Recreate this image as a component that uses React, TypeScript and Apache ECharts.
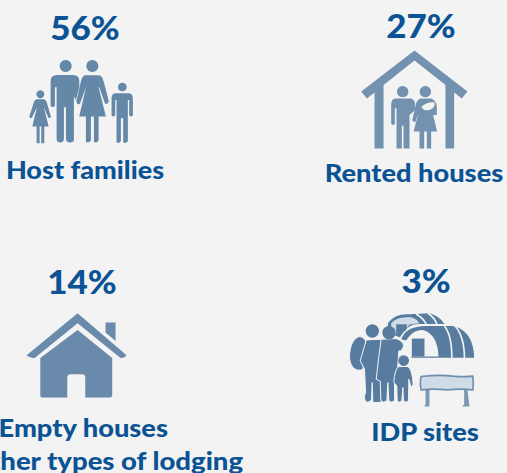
import React, { useEffect, useRef } from "react";
import * as echarts from "echarts";

const shareLabels = ["56%", "27%", "14%", "3%"];
const categoryLabels = ["Host families", "Rented houses", "Empty houses", "IDP sites"];
const extraLabel = "Other types of lodging";

const BLUE = "#0b5394";
const BG = "#f3f3f3";
const FONT = "Lato, 'Open Sans', sans-serif";

const paths: Record<string, string> = {
  man: "M152 244 Q152 225 172 225 L220 225 Q238 225 238 244 L238 262 L228 300 L222 290 L222 418 Q222 428 210 428 Q200 428 198 418 L198 322 L192 322 L192 418 Q190 428 181 428 Q171 428 170 418 L170 262 L165 262 L165 318 Q158 324 152 318 Z",
  woman: "M254 226 L298 226 Q306 228 310 240 L327 305 Q322 316 315 310 L298 262 L296 262 L318 350 L296 350 L296 422 Q290 432 282 426 L282 350 L273 350 L273 422 Q266 432 258 426 L258 350 L238 350 L258 262 L240 312 Q232 316 229 305 L244 240 Q247 230 254 226 Z",
  girl: "M110 298 L132 298 Q138 300 140 306 L153 350 Q150 358 145 353 L132 322 L146 380 L133 380 L133 430 L124 430 L124 380 L119 380 L119 430 L110 430 L110 380 L97 380 L111 322 L96 353 Q91 358 88 350 L102 306 Q104 300 110 298 Z",
  boy: "M345 280 L388 280 Q398 282 399 294 L399 346 Q394 354 388 346 L388 300 L384 300 L384 424 Q378 432 370 428 L370 355 L363 355 L363 424 Q358 432 350 428 L350 300 L346 300 L346 346 Q340 354 335 346 L335 294 Q336 282 345 280 Z",
  roof2: "M485 152 L644 275 L627 296 L604 278 L604 446 L578 446 L578 255 L485 182 L392 255 L392 446 L365 446 L365 278 L342 296 L325 275 Z",
  man2: "M425 296 L475 296 Q487 300 487 315 L487 330 L470 345 L470 446 L452 446 L452 378 L447 378 L447 446 L431 446 L431 325 L426 325 L426 372 Q420 378 415 372 L415 310 Q416 300 425 296 Z",
  woman2: "M502 296 L535 296 Q550 302 552 320 L552 345 L541 345 L553 395 L535 395 L535 446 L522 446 L522 395 L514 395 L514 446 L500 446 L500 395 L482 395 L497 340 L487 368 L478 362 L490 310 Q493 300 502 296 Z",
  baby2: "M505 322 Q520 305 545 307 Q548 325 530 330 Q515 335 505 322 Z",
  roof3: "M233 232 L380 358 Q375 368 362 366 L233 262 L104 366 Q90 368 80 358 Z",
  chimney3: "M317 260 L347 260 L347 315 L317 290 Z",
  house3: "M233 282 L337 366 L337 480 Q337 485 330 485 L256 485 L256 425 Q256 415 246 415 L212 415 Q202 415 202 425 L202 485 L127 485 Q121 485 121 480 L121 366 Z",
  backHangar: "M405 262 Q425 232 470 235 L530 232 Q560 240 575 264 L500 264 Q460 264 442 305 L405 290 Z",
  backLight: "M415 262 Q430 243 470 243 Q490 245 500 262 L470 266 L445 300 L415 290 Z",
  backDoor: "M430 265 L462 265 L462 285 L445 300 L430 300 Z",
  frontHangar: "M442 312 Q455 268 520 268 L600 268 Q664 280 667 368 L473 368 L473 320 Z",
  frontLight: "M455 322 Q475 282 510 282 Q555 295 557 362 L473 362 L473 330 Z",
  frontDoor: "M477 308 L515 308 L515 362 L477 362 Z",
  rib1: "M575 270 Q598 300 597 368",
  rib2: "M605 268 Q635 300 635 368",
  backRib1: "M490 234 Q510 245 520 264",
  backRib2: "M525 232 Q545 245 552 264",
  pack: "M318 302 Q335 302 340 320 L330 400 Q315 408 300 395 Q285 375 292 340 Q298 310 318 302 Z",
  adult1: "M340 312 L385 310 L385 500 L360 500 L358 440 L356 490 Q350 503 338 497 Q330 485 338 470 L335 400 L322 375 Z",
  adult2: "M385 310 L430 308 Q450 315 453 330 L445 345 L438 345 L432 430 L425 436 L425 495 Q415 503 408 495 L405 440 L402 495 Q392 503 384 495 L382 436 L370 430 L378 360 Z",
  child: "M438 392 L465 392 Q478 400 481 445 L475 455 L468 430 L467 495 Q460 503 452 495 L450 455 L447 495 Q440 503 433 495 L432 450 L423 440 Q425 400 438 392 Z",
  board: "M505 422 Q560 416 600 421 Q640 424 660 421 Q663 440 660 462 Q620 458 585 462 Q540 458 505 462 Q500 440 505 422 Z",
  post1: "M518 462 L530 462 L530 512 L514 512 L518 505 Z",
  post2: "M634 462 L644 462 L650 512 L628 512 L634 505 Z",
};

Object.keys(paths).forEach((k) => {
  echarts.graphic.registerShape("ic_" + k, echarts.graphic.extendPath(paths[k], {}) as any);
});

const shape = (name: string, ox: number, oy: number, style: any) => ({
  type: "ic_" + name,
  x: ox,
  y: oy,
  scaleX: 1 / 3,
  scaleY: 1 / 3,
  style,
});
const head = (cx: number, cy: number, r: number, ox: number, oy: number, fill: string) => ({
  type: "circle",
  shape: { cx: ox + cx / 3, cy: oy + cy / 3, r: r / 3 },
  style: { fill },
});
const txt = (text: string, x: number, y: number, size: number, stretch: number, align: string = "center") => ({
  type: "text",
  x,
  y,
  scaleX: stretch,
  style: { text, fill: BLUE, font: `900 ${size}px ${FONT}`, textAlign: align, textVerticalAlign: "middle" },
});

export default function App() {
  const ref = useRef<HTMLDivElement>(null);
  useEffect(() => {
    document.body.style.margin = "0";
    document.body.style.background = BG;
    const chart = echarts.init(ref.current!, null, { renderer: "svg" });
    const c1 = "#6588a8";
    const c2 = "#7392b0";
    const c3 = "#6a8aab";
    const c4 = "#587c9f";
    const light = "#cfdbe6";
    const outline = { stroke: BG, lineWidth: 3 };
    chart.setOption({
      animation: false,
      backgroundColor: BG,
      graphic: {
        elements: [
          txt(shareLabels[0], 85, 27, 33, 1.06),
          txt(shareLabels[1], 421, 25, 33, 1.06),
          txt(shareLabels[2], 82, 281, 33, 1.06),
          txt(shareLabels[3], 426, 280, 33, 1.06),
          txt(categoryLabels[0], 85, 169, 25, 1.08),
          txt(categoryLabels[1], 414, 172, 25, 1.09),
          txt(categoryLabels[2], 168, 427, 25, 1.09, "right"),
          txt(extraLabel, 243, 460, 25, 1.1, "right"),
          txt(categoryLabels[3], 425, 431, 25, 1.09),

          head(197, 198, 18, 0, 0, c1),
          head(277, 198, 18, 0, 0, c1),
          head(121, 283, 12, 0, 0, c1),
          head(367, 261, 13, 0, 0, c1),
          shape("man", 0, 0, { fill: c1 }),
          shape("woman", 0, 0, { fill: c1 }),
          shape("girl", 0, 0, { fill: c1 }),
          shape("boy", 0, 0, { fill: c1 }),

          shape("roof2", 253, 0, { fill: c2 }),
          head(449, 275, 17, 253, 0, c2),
          head(517, 275, 17, 253, 0, c2),
          shape("man2", 253, 0, { fill: c2 }),
          shape("woman2", 253, 0, { fill: c2 }),
          shape("baby2", 253, 0, { fill: BG }),

          shape("roof3", 0, 236, { fill: c3 }),
          shape("chimney3", 0, 236, { fill: c3 }),
          shape("house3", 0, 236, { fill: c3 }),

          shape("backHangar", 253, 236, { fill: c4 }),
          shape("backLight", 253, 236, { fill: light }),
          shape("backDoor", 253, 236, { fill: c4 }),
          shape("backRib1", 253, 236, { fill: "none", stroke: BG, lineWidth: 5 }),
          shape("backRib2", 253, 236, { fill: "none", stroke: BG, lineWidth: 5 }),
          shape("frontHangar", 253, 236, { fill: c4, stroke: BG, lineWidth: 5 }),
          shape("frontLight", 253, 236, { fill: BG }),
          shape("frontDoor", 253, 236, { fill: c4 }),
          shape("rib1", 253, 236, { fill: "none", stroke: BG, lineWidth: 5 }),
          shape("rib2", 253, 236, { fill: "none", stroke: BG, lineWidth: 5 }),
          shape("pack", 253, 236, { fill: c4, ...outline }),
          shape("adult1", 253, 236, { fill: c4, ...outline }),
          shape("adult2", 253, 236, { fill: c4, ...outline }),
          shape("child", 253, 236, { fill: c4, ...outline }),
          head(358, 285, 20, 253, 236, c4),
          head(408, 290, 20, 253, 236, c4),
          head(452, 374, 16, 253, 236, c4),
          shape("post1", 253, 236, { fill: "#7c99b4" }),
          shape("post2", 253, 236, { fill: "#7c99b4" }),
          shape("board", 253, 236, { fill: light, stroke: "#6f8fae", lineWidth: 5 }),
        ],
      },
    });
    return () => chart.dispose();
  }, []);
  return <div ref={ref} style={{ width: 507, height: 473 }} />;
}
